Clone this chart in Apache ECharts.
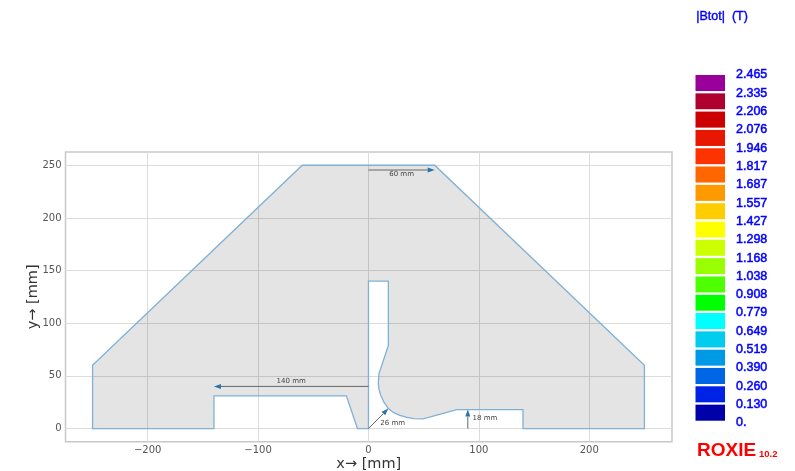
<!DOCTYPE html>
<html><head><meta charset="utf-8">
<style>html,body{margin:0;padding:0;background:#fff}#c{width:795px;height:471px}</style>
<script src="https://cdn.jsdelivr.net/npm/echarts@6/dist/echarts.min.js"></script>
</head><body><div id="c"></div>
<script>
var outlineX = [-250,-250,-60,60,250,250,140,140,80,49.6,40.6,34,28.5,22.5,18,14,11,9.6,8.9,9.5,18,18,0,0,-10,-20,-140,-140,-250];
var outlineY = [0,60,250,250,60,0,0,18,18,9.2,9.5,10.8,12.6,15.3,19,25,31.8,37,43,52,79,140,140,0,0,31,31,0,0];
var xTicks = [-200,-100,0,100,200];
var yTicks = [0,50,100,150,200,250];
var arrowStartX = [0,0,90,0];
var arrowStartY = [245.5,40,0,0];
var arrowEndX = [60,-140,90,18];
var arrowEndY = [245.5,40,18,19];
var noteText = ['60 mm','140 mm','18 mm','26 mm'];
var noteX = [30,-70,105.5,22];
var noteY = [241.5,45,10,5];
var scaleValues = [0,0.130,0.260,0.390,0.519,0.649,0.779,0.908,1.038,1.168,1.298,1.427,1.557,1.687,1.817,1.946,2.076,2.206,2.335,2.465];
var scaleColors = ['#0000aa','#0022e6','#0066e6','#0099e6','#00ccee','#00ffff','#00ff00','#4dff00','#99ff00','#ccff00','#ffff00','#ffcc00','#ff9900','#ff6600','#ff3300','#e81800','#cc0000','#b00030','#990099'];

var tickFont = {fontFamily:'DejaVu Sans',fontSize:10,color:'#555'};
var nameFont = {fontFamily:'DejaVu Sans',fontSize:14.5,color:'#333'};
var gridLine = {show:true,lineStyle:{color:'#dcdcdc',width:1}};

var chart = echarts.init(document.getElementById('c'),null,{renderer:'canvas'});
chart.setOption({
  animation:false,
  backgroundColor:'#fff',
  grid:[
    {left:65.5,right:123,top:152,bottom:29.3,show:true,borderColor:'#c8c8c8',borderWidth:1.5,backgroundColor:'transparent',outerBoundsMode:'none'},
    {left:695.5,width:29.5,top:75,height:348,show:false,outerBoundsMode:'none'}
  ],
  xAxis:[
    {type:'value',gridIndex:0,min:-274.5,max:275,
     name:'x\u2192 [mm]',nameLocation:'middle',nameGap:15,nameMoveOverlap:false,nameTextStyle:nameFont,
     axisLine:{show:false},
     axisTick:{show:false,customValues:xTicks},
     axisLabel:Object.assign({customValues:xTicks,margin:4,formatter:function(v){return String(v).replace('-','\u2212');}},tickFont),
     splitLine:gridLine},
    {type:'value',gridIndex:1,min:0,max:1,show:false}
  ],
  yAxis:[
    {type:'value',gridIndex:0,min:-12.5,max:262.6,
     name:'y\u2192 [mm]',nameLocation:'middle',nameGap:25,nameMoveOverlap:false,nameRotate:90,nameTextStyle:nameFont,
     axisLine:{show:false},
     axisTick:{show:false,customValues:yTicks},
     axisLabel:Object.assign({customValues:yTicks,margin:4},tickFont),
     splitLine:gridLine},
    {type:'value',gridIndex:1,min:0,max:2.465,position:'right',
     axisLine:{show:false},axisTick:{show:false,customValues:scaleValues},splitLine:{show:false},
     axisLabel:{customValues:scaleValues,margin:11,fontFamily:'Liberation Sans',fontSize:12.5,color:'#0000ff',
       textBorderColor:'#0000ff',textBorderWidth:0.5,
       formatter:function(v){return v===0?'0.':v.toFixed(3);}}}
  ],
  series:[
    {type:'custom',xAxisIndex:0,yAxisIndex:0,silent:true,z:3,
     data:outlineX.map(function(x,i){return [x,outlineY[i]];}),
     renderItem:function(p,api){
       if(p.dataIndex!==0) return null;
       var pts=outlineX.map(function(x,i){return api.coord([x,outlineY[i]]);});
       return {type:'polygon',shape:{points:pts},
         style:{fill:'rgba(0,0,0,0.105)',stroke:'#7fb1d6',lineWidth:1.3,lineJoin:'miter'}};
     }},
    {type:'custom',xAxisIndex:0,yAxisIndex:0,silent:true,z:4,
     data:arrowStartX.map(function(x,i){return [x,arrowStartY[i],arrowEndX[i],arrowEndY[i]];}),
     renderItem:function(p,api){
       var a=api.coord([api.value(0),api.value(1)]),b=api.coord([api.value(2),api.value(3)]);
       var dx=b[0]-a[0],dy=b[1]-a[1],l=Math.sqrt(dx*dx+dy*dy);dx/=l;dy/=l;
       var hl=7,hw=2.5;
       var tail=[b[0]-dx*hl,b[1]-dy*hl];
       return {type:'group',children:[
         {type:'line',shape:{x1:a[0],y1:a[1],x2:tail[0],y2:tail[1]},style:{stroke:'#666',lineWidth:1}},
         {type:'polygon',shape:{points:[b,[tail[0]-dy*hw,tail[1]+dx*hw],[tail[0]+dy*hw,tail[1]-dx*hw]]},style:{fill:'#2a72a8'}}
       ]};
     }},
    {type:'custom',xAxisIndex:0,yAxisIndex:0,silent:true,z:5,
     data:noteX.map(function(x,i){return [x,noteY[i]];}),
     renderItem:function(p,api){
       var c=api.coord([api.value(0),api.value(1)]);
       return {type:'text',x:c[0],y:c[1],style:{text:noteText[p.dataIndex],fill:'#444',
         font:'7px "DejaVu Sans"',textAlign:'center',textVerticalAlign:'middle'}};
     }},
    {type:'custom',xAxisIndex:1,yAxisIndex:1,silent:true,
     data:scaleColors.map(function(c,i){return [scaleValues[i],scaleValues[i+1]];}),
     renderItem:function(p,api){
       var a=api.coord([0,api.value(1)]),b=api.coord([1,api.value(0)]);
       return {type:'rect',shape:{x:a[0],y:a[1],width:b[0]-a[0],height:b[1]-a[1]-2.3},
         style:{fill:scaleColors[p.dataIndex]}};
     }}
  ],
  graphic:[
    {type:'text',left:696,top:10,style:{text:'|Btot|  (T)',fill:'#0000ff',font:'12.5px "Liberation Sans"',
      stroke:'#0000ff',lineWidth:0.4}},
    {type:'text',left:697,top:441,style:{text:'ROXIE',fill:'#ff0000',font:'bold 19px "Liberation Sans"'}},
    {type:'text',left:759,top:449,style:{text:'10.2',fill:'#ff0000',font:'bold 9.5px "Liberation Sans"'}}
  ]
});
</script></body></html>
